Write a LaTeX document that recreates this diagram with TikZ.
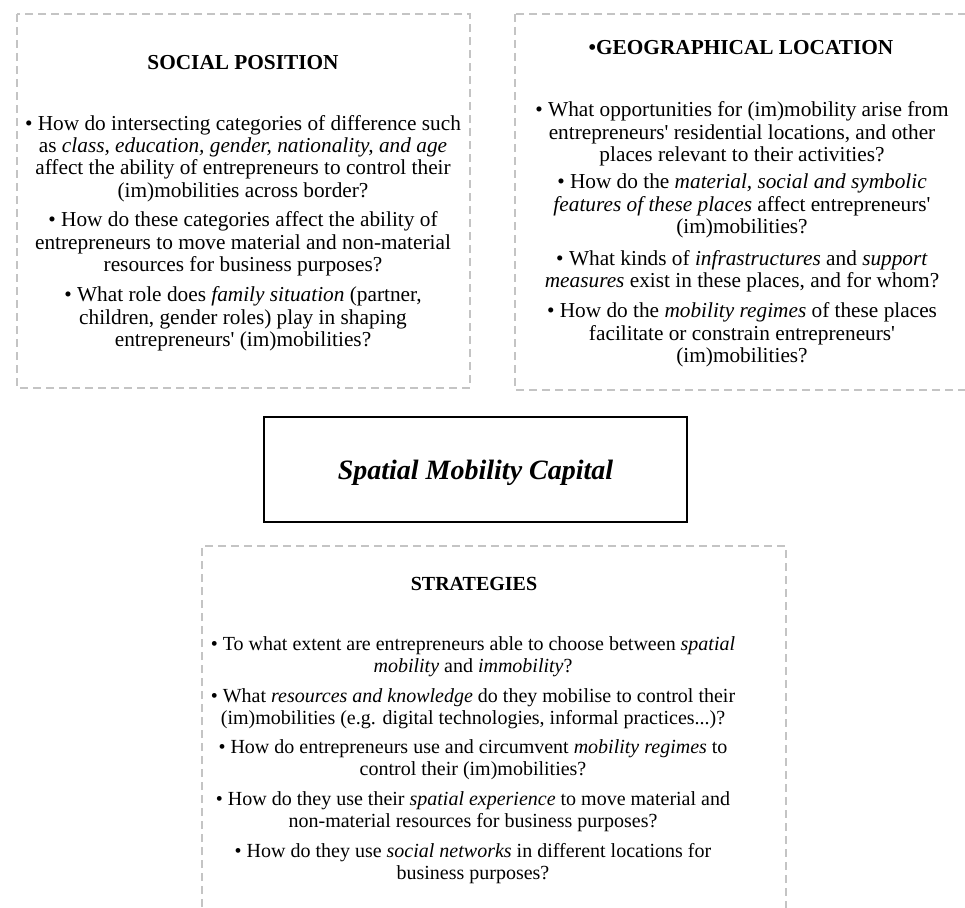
\documentclass[tikz,border=0pt]{standalone}
\usepackage{fontspec}
\setmainfont{Liberation Serif}
\definecolor{dashgray}{RGB}{196,196,196}
\begin{document}
\begin{tikzpicture}[x=1pt,y=-1pt,
  dbox/.style={draw=dashgray, line width=1.5pt, dash pattern=on 8pt off 5pt},
  para/.style={anchor=base, align=center, inner sep=0pt, font=\fontsize{21.3}{22.3}\selectfont},
  parb/.style={anchor=base, align=center, inner sep=0pt, font=\fontsize{20}{22}\selectfont},
  head/.style={anchor=base, inner sep=0pt, font=\fontsize{21.3}{22.3}\selectfont\bfseries},
  headb/.style={anchor=base, inner sep=0pt, font=\fontsize{20}{22}\selectfont\bfseries},
  title/.style={draw=black, line width=1.6pt, minimum width=423pt, minimum height=105pt, inner sep=0pt}]
\useasboundingbox (0,0) rectangle (965,907);
\newcommand{\q}{\textquotesingle}
% boxes
\draw[dbox] (17,14) rectangle (470,388);
\draw[dbox] (515,14) rectangle (969,390);
\draw[dbox] (202,920) -- (202,546) -- (786,546) -- (786,920);
% centre title
\node[title] (smc) at (475.5,469.5) {};
\node[anchor=base, inner sep=0pt, font=\fontsize{28}{32}\selectfont\bfseries\itshape] (smct) at (475.5,479) {Spatial Mobility Capital};
% social position (base = last line baseline)
\node[head] (sph) at (243,69) {SOCIAL POSITION};
\node[para] (sp1) at (243,197) {\textbullet{} How do intersecting categories of difference such\\
as \emph{class, education, gender, nationality, and age}\\
affect the ability of entrepreneurs to control their\\
(im)mobilities across border?};
\node[para] (sp2) at (243,271.5) {\textbullet{} How do these categories affect the ability of\\
entrepreneurs to move material and non-material\\
resources for business purposes?};
\node[para] (sp3) at (243,346.5) {\textbullet{} What role does \emph{family situation} (partner,\\
children, gender roles) play in shaping\\
entrepreneurs\q{} (im)mobilities?};
% geographical location
\node[head] (glh) at (741,54) {\textbullet GEOGRAPHICAL LOCATION};
\node[para] (gl1) at (742,161.5) {\textbullet{} What opportunities for (im)mobility arise from\\
entrepreneurs\q{} residential locations, and other\\
places relevant to their activities?};
\node[para] (gl2) at (742,233.5) {\textbullet{} How do the \emph{material, social and symbolic}\\
\emph{features of these places} affect entrepreneurs\q\\
(im)mobilities?};
\node[para] (gl3) at (742,287.3) {\textbullet{} What kinds of \emph{infrastructures} and \emph{support}\\
\emph{measures} exist in these places, and for whom?};
\node[para] (gl4) at (742,362.5) {\textbullet{} How do the \emph{mobility regimes} of these places\\
facilitate or constrain entrepreneurs\q\\
(im)mobilities?};
% strategies
\node[headb] (sth) at (474,590) {STRATEGIES};
\node[parb] (st1) at (473,672) {\textbullet{} To what extent are entrepreneurs able to choose between \emph{spatial}\\
\emph{mobility} and \emph{immobility}?};
\node[parb] (st2) at (473,724) {\textbullet{} What \emph{resources and knowledge} do they mobilise to control their\\
(im)mobilities (e.g. digital technologies, informal practices...)?};
\node[parb] (st3) at (473,775) {\textbullet{} How do entrepreneurs use and circumvent \emph{mobility regimes} to\\
control their (im)mobilities?};
\node[parb] (st4) at (473,827) {\textbullet{} How do they use their \emph{spatial experience} to move material and\\
non-material resources for business purposes?};
\node[parb] (st5) at (473,879) {\textbullet{} How do they use \emph{social networks} in different locations for\\
business purposes?};
\end{tikzpicture}
\end{document}
